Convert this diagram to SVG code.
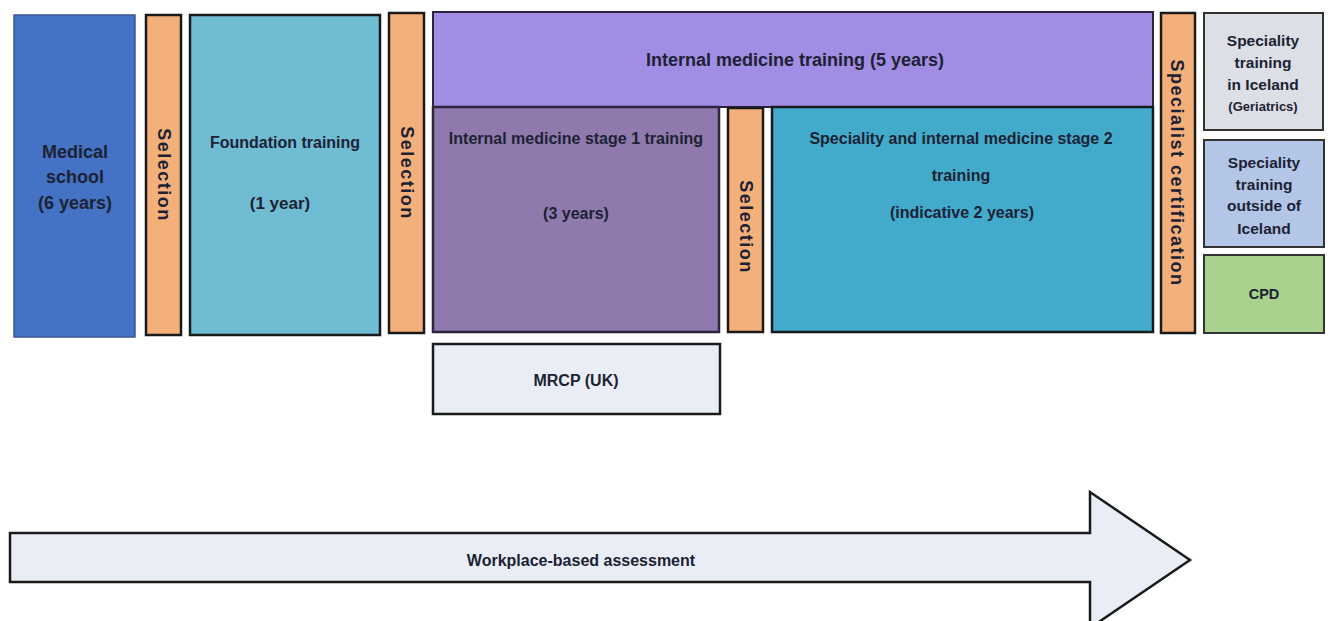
<svg xmlns="http://www.w3.org/2000/svg" width="1330" height="621" viewBox="0 0 1330 621">
<style>
.t{font-family:"Liberation Sans",Arial,sans-serif;font-weight:bold;fill:#1c2233;text-anchor:middle;dominant-baseline:central}
.v{letter-spacing:1.5px}
.box{stroke:#1a1a1a;stroke-width:2.5}
.sel{fill:#F4B07A;stroke:#1a1a1a;stroke-width:2.5}
</style>
<rect width="1330" height="621" fill="#ffffff"/>
<g id="medical-school">
<rect x="14" y="15" width="121" height="322" fill="#4472C4" stroke="#3a5a95" stroke-width="1.5"/>
<text class="t" x="75" y="152" font-size="18">Medical</text>
<text class="t" x="75" y="177" font-size="18">school</text>
<text class="t" x="75" y="203" font-size="18">(6 years)</text>
</g>
<g id="selection-1">
<rect class="sel" x="146" y="15" width="35" height="320"/>
<text class="t v" transform="translate(164,175) rotate(90)" font-size="18">Selection</text>
</g>
<g id="foundation">
<rect class="box" x="190" y="15" width="190" height="320" fill="#6FBCD3"/>
<text class="t" x="285" y="142" font-size="16">Foundation training</text>
<text class="t" x="280" y="203" font-size="17">(1 year)</text>
</g>
<g id="selection-2">
<rect class="sel" x="389" y="13" width="35" height="320"/>
<text class="t v" transform="translate(407,173) rotate(90)" font-size="18">Selection</text>
</g>
<g id="im-training">
<rect x="433" y="12" width="720" height="95" fill="#A18DE3" stroke="#2a2440" stroke-width="2"/>
<text class="t" x="795" y="60" font-size="18">Internal medicine training (5 years)</text>
</g>
<g id="im-stage1">
<rect x="433" y="107" width="286" height="225" fill="#8F79AD" stroke="#2a2440" stroke-width="2.5"/>
<text class="t" x="576" y="138" font-size="16">Internal medicine stage 1 training</text>
<text class="t" x="576" y="213" font-size="16">(3 years)</text>
</g>
<g id="selection-3">
<rect class="sel" x="728" y="108" width="35" height="224"/>
<text class="t v" transform="translate(746,227) rotate(90)" font-size="18">Selection</text>
</g>
<g id="im-stage2">
<rect class="box" x="772" y="107" width="381" height="225" fill="#42ABCC"/>
<text class="t" x="961" y="138" font-size="16">Speciality and internal medicine stage 2</text>
<text class="t" x="961" y="175" font-size="16">training</text>
<text class="t" x="962" y="212" font-size="16">(indicative 2 years)</text>
</g>
<g id="specialist-certification">
<rect class="sel" x="1161" y="13" width="34" height="320"/>
<text class="t v" transform="translate(1177,173) rotate(90)" font-size="18">Specialist certification</text>
</g>
<g id="iceland">
<rect x="1204" y="13" width="119" height="117" fill="#DCDFE6" stroke="#333" stroke-width="2"/>
<text class="t" x="1263" y="40" font-size="15.5">Speciality</text>
<text class="t" x="1263" y="62" font-size="15.5">training</text>
<text class="t" x="1263" y="84" font-size="15.5">in Iceland</text>
<text class="t" x="1263" y="106" font-size="13">(Geriatrics)</text>
</g>
<g id="outside">
<rect x="1204" y="140" width="120" height="107" fill="#B3C6E7" stroke="#333" stroke-width="2"/>
<text class="t" x="1264" y="162" font-size="15.5">Speciality</text>
<text class="t" x="1264" y="184" font-size="15.5">training</text>
<text class="t" x="1264" y="205" font-size="15.5">outside of</text>
<text class="t" x="1264" y="228" font-size="15.5">Iceland</text>
</g>
<g id="cpd">
<rect x="1204" y="255" width="120" height="78" fill="#A9D18E" stroke="#333" stroke-width="2"/>
<text class="t" x="1264" y="294" font-size="14.5">CPD</text>
</g>
<g id="mrcp">
<rect class="box" x="433" y="344" width="287" height="70" fill="#E9EEF6"/>
<text class="t" x="576" y="380" font-size="16">MRCP (UK)</text>
</g>
<g id="connectors">
<g id="wba">
<path d="M10,533 L1090,533 L1090,492 L1190,560 L1090,628 L1090,582 L10,582 Z" fill="#E9EEF6" stroke="#1a1a1a" stroke-width="2.5" stroke-linejoin="miter"/>
<text class="t" x="581" y="560" font-size="16">Workplace-based assessment</text>
</g>
</g>
</svg>
